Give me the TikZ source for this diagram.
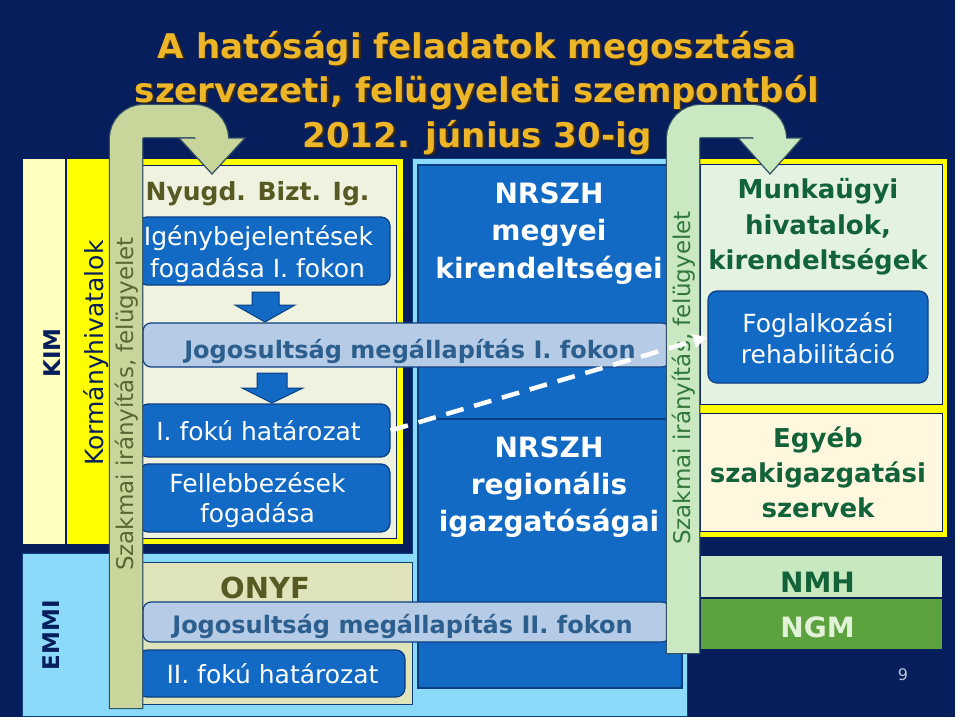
\documentclass[tikz,border=0pt]{standalone}
\usepackage{fontspec}
\setmainfont{DejaVu Sans}
\usepackage{pdfrender}
\usetikzlibrary{arrows.meta}
\definecolor{navy}{RGB}{6,30,92}
\definecolor{kimy}{RGB}{255,255,192}
\definecolor{yel}{RGB}{255,255,0}
\definecolor{cream}{RGB}{238,242,222}
\definecolor{dblue}{RGB}{18,106,196}
\definecolor{dbord}{RGB}{12,62,130}
\definecolor{lblue}{RGB}{140,218,250}
\definecolor{steel}{RGB}{182,204,230}
\definecolor{steeltxt}{RGB}{44,94,142}
\definecolor{onyf}{RGB}{224,228,186}
\definecolor{olive}{RGB}{88,90,36}
\definecolor{bandl}{RGB}{200,214,156}
\definecolor{bandr}{RGB}{202,232,194}
\definecolor{bandedge}{RGB}{50,80,100}
\definecolor{mgreen}{RGB}{228,242,226}
\definecolor{egyeb}{RGB}{255,248,222}
\definecolor{dgreen}{RGB}{18,98,58}
\definecolor{nmhc}{RGB}{200,232,192}
\definecolor{ngmc}{RGB}{92,162,62}
\definecolor{ngmtxt}{RGB}{226,242,216}
\definecolor{gold}{RGB}{236,182,40}
\definecolor{goldsh}{RGB}{70,45,5}
\definecolor{bandltxt}{RGB}{88,104,50}
\definecolor{bandrtxt}{RGB}{50,120,60}
\definecolor{pgnum}{RGB}{190,195,215}
\newcommand\mytitleline[3]{%
  \node[ttl,text=goldsh,xshift=1.8pt,yshift=-1.8pt] (#1s) at (477,#2) {#3};
  \node[ttl] (#1) at (477,#2) {\textpdfrender{TextRenderingMode=FillStroke,LineWidth=2,StrokeColor=goldsh,FillColor=gold}{#3}};}
\begin{document}
\begin{tikzpicture}[x=1pt,y=-1pt,
  ttl/.style={font=\fontsize{34}{40}\selectfont\bfseries,text=gold,anchor=base,inner sep=0pt},
  bbox/.style={fill=dblue,draw=dbord,line width=1.2pt,rounded corners=9pt,inner sep=0pt},
  bar/.style={fill=steel,draw=dbord,line width=1.2pt,rounded corners=8pt,inner sep=0pt},
  plainbox/.style={line width=1.2pt,inner sep=0pt},
  wt/.style={text=white,font=\fontsize{25}{30}\selectfont,anchor=base,inner sep=0pt},
  wtb/.style={text=white,font=\fontsize{28}{30}\selectfont\bfseries,anchor=base,inner sep=0pt},
  gtb/.style={text=dgreen,font=\fontsize{26}{30}\selectfont\bfseries,anchor=base,inner sep=0pt},
  bartxt/.style={text=steeltxt,font=\fontsize{24}{28}\selectfont\bfseries,anchor=base,inner sep=0pt},
  olvt/.style={text=olive,font=\fontsize{25}{30}\selectfont\bfseries,anchor=base,inner sep=0pt},
  rot/.style={rotate=90,anchor=base,inner sep=0pt},
  dnarrow/.style={fill=dblue,draw=dbord,line width=1pt,line join=miter},
]
\useasboundingbox (0,0) rectangle (960,720);
\fill[white] (0,0) rectangle (960,720);
\fill[navy] (0,0) rectangle (955,717);
% title
\mytitleline{ta}{58}{A hatósági feladatok megosztása}
\mytitleline{tb}{102}{szervezeti, felügyeleti szempontból}
\mytitleline{tc}{147}{2012. június 30-ig}
% light blue area
\path[fill=lblue,draw=dbord,line width=1pt] (22,553) -- (412,553) -- (412,158) -- (687,158) -- (687,716) -- (22,716) -- cycle;
% KIM strips
\path[fill=kimy,draw=navy,line width=1.5pt] (22,158) rectangle (66,545);
\path[fill=yel,draw=navy,line width=1.5pt] (66,158) rectangle (112,545);
\node[rot,text=navy,font=\fontsize{23}{26}\selectfont\bfseries] (kim) at (60,353) {KIM};
\node[rot,text=navy,font=\fontsize{25}{26}\selectfont] (korm) at (103,353) {Kormányhivatalok};
\node[rot,text=navy,font=\fontsize{23}{26}\selectfont\bfseries] (emmi) at (59,635) {EMMI};
% left frame
\path[fill=yel,draw=navy,line width=1.5pt] (138,158) rectangle (404,545);
\path[fill=cream,draw=navy,line width=1pt] (140,165) rectangle (396,538);
% NRSZH
\node[plainbox,fill=dblue,draw=dbord,minimum width=264pt,minimum height=254pt] (megyei) at (550,292) {};
\node[plainbox,fill=dblue,draw=dbord,minimum width=264pt,minimum height=269pt] (regio) at (550,553.5) {};
% right frame
\path[fill=yel,draw=navy,line width=1.5pt] (697,158) rectangle (948,538);
\path[fill=mgreen,draw=navy,line width=1pt] (700,164) rectangle (942,404);
\path[fill=egyeb,draw=navy,line width=1pt] (700,413) rectangle (942,531);
\node[plainbox,fill=nmhc,draw=navy,minimum width=243pt,minimum height=43pt] (nmh) at (821.5,576.5) {};
\node[plainbox,fill=ngmc,draw=navy,minimum width=243pt,minimum height=52pt] (ngm) at (821.5,624) {};
% ONYF
\path[fill=onyf,draw=dbord,line width=1pt] (140,562) rectangle (412,704);
\node[olvt,font=\fontsize{29}{30}\selectfont\bfseries] (onyft) at (265,598) {ONYF};
% boxes
\node[bbox,minimum width=252pt,minimum height=68pt] (igeny) at (264,251) {};
\node[bbox,minimum width=251pt,minimum height=53pt] (fok1) at (264.5,430.5) {};
\node[bbox,minimum width=251pt,minimum height=68pt] (fell) at (264.5,498) {};
\node[bbox,minimum width=267pt,minimum height=47pt] (fok2) at (271.5,673.5) {};
\node[bbox,minimum width=220pt,minimum height=92pt] (fogl) at (818,337) {};
\node[bar,minimum width=527pt,minimum height=44pt] (bar1) at (406.5,345) {};
\node[bar,minimum width=527pt,minimum height=40pt] (bar2) at (406.5,622) {};
% block arrows
\path[dnarrow] (252,292) -- (279,292) -- (279,305) -- (295,305) -- (265,322) -- (235,305) -- (252,305) -- cycle;
\path[dnarrow] (257,373) -- (287,373) -- (287,388) -- (303,388) -- (272,403) -- (242,388) -- (257,388) -- cycle;
% texts left
\node[olvt] (nyugd) at (257.5,200) {Nyugd. Bizt. Ig.};
\node[wt] (igenya) at (258.5,245) {Igénybejelentések};
\node[wt] (igenyb) at (257.5,277) {fogadása I. fokon};
\node[bartxt] (bar1t) at (410,358) {Jogosultság megállapítás I. fokon};
\node[wt] (fok1t) at (258.5,440) {I. fokú határozat};
\node[wt] (fella) at (257.5,492) {Fellebbezések};
\node[wt] (fellb) at (257.5,522) {fogadása};
\node[bartxt] (bar2t) at (402.5,633) {Jogosultság megállapítás II. fokon};
\node[wt] (fok2t) at (272.5,683) {II. fokú határozat};
% NRSZH texts
\node[wtb] (mega) at (549,203) {NRSZH};
\node[wtb] (megb) at (549,240) {megyei};
\node[wtb] (megc) at (549,278) {kirendeltségei};
\node[wtb] (rega) at (549,457) {NRSZH};
\node[wtb] (regb) at (549,494) {regionális};
\node[wtb] (regc) at (549,531) {igazgatóságai};
% right texts
\node[gtb] (munka) at (818,198) {Munkaügyi};
\node[gtb] (munkb) at (818,234) {hivatalok,};
\node[gtb] (munkc) at (818,269) {kirendeltségek};
\node[wt] (fogla) at (818,332) {Foglalkozási};
\node[wt] (foglb) at (818,363) {rehabilitáció};
\node[gtb] (egya) at (818,447) {Egyéb};
\node[gtb] (egyb) at (818,482) {szakigazgatási};
\node[gtb] (egyc) at (818,517) {szervek};
\node[gtb,font=\fontsize{28}{30}\selectfont\bfseries] (nmht) at (817.5,592) {NMH};
\node[gtb,text=ngmtxt,font=\fontsize{28}{30}\selectfont\bfseries] (ngmt) at (817.5,637) {NGM};
\node[text=pgnum,font=\fontsize{16}{18}\selectfont,anchor=base,inner sep=0pt] (pg) at (903,680) {9};
% left band
\draw[bandedge,line width=34.5pt,rounded corners=18pt] (126,709) -- (126,121) -- (212,121) -- (212,139);
\path[fill=bandl,draw=bandedge,line width=1.2pt,line join=miter] (179,138) -- (245,138) -- (212,174) -- cycle;
\draw[bandl,line width=32pt,rounded corners=18pt] (126,707.8) -- (126,121) -- (212,121) -- (212,140);
\node[rot,text=bandltxt,font=\fontsize{23}{26}\selectfont] (bandlt) at (133,404) {Szakmai irányítás, felügyelet};
% right band
\draw[bandedge,line width=34.5pt,rounded corners=18pt] (683,654) -- (683,121) -- (770,121) -- (770,139);
\path[fill=bandr,draw=bandedge,line width=1.2pt,line join=miter] (738,138) -- (802,138) -- (770,174) -- cycle;
\draw[bandr,line width=32pt,rounded corners=18pt] (683,652.8) -- (683,121) -- (770,121) -- (770,140);
\node[rot,text=bandrtxt,font=\fontsize{23}{26}\selectfont] (bandrt) at (690,378) {Szakmai irányítás, felügyelet};
% dashed arrow
\draw[white,line width=4.5pt,dash pattern=on 18pt off 11pt,-{Triangle[length=14pt,width=13pt]}] (fok1.east) -- (fogl.west);
\end{tikzpicture}
\end{document}
